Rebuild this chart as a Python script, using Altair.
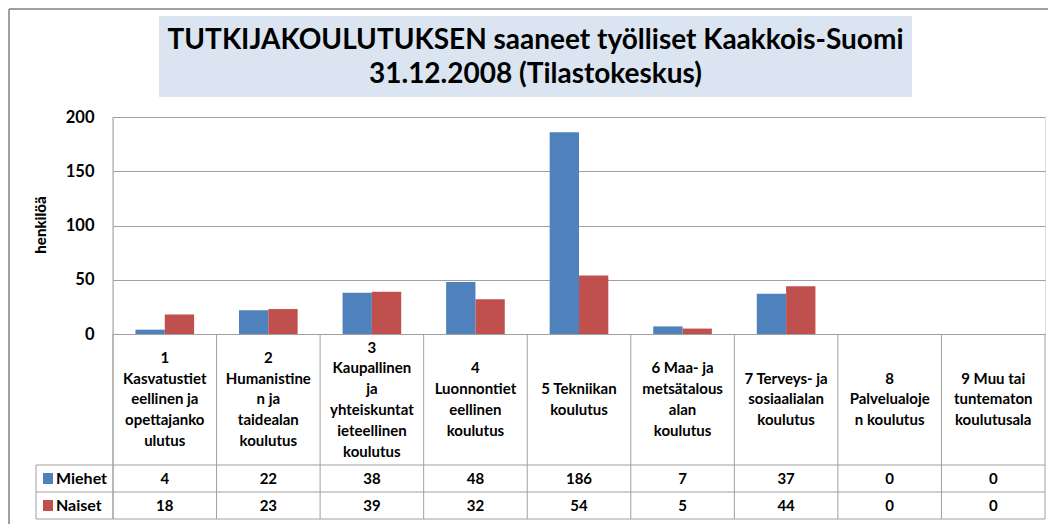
import altair as alt
import pandas as pd

# ---- data ----
categories = [
    "1\nKasvatustiet\neellinen ja\nopettajanko\nulutus",
    "2\nHumanistine\nn ja\ntaidealan\nkoulutus",
    "3\nKaupallinen\nja\nyhteiskuntat\nieteellinen\nkoulutus",
    "4\nLuonnontiet\neellinen\nkoulutus",
    "5 Tekniikan\nkoulutus",
    "6 Maa-  ja\nmetsätalous\nalan\nkoulutus",
    "7 Terveys-  ja\nsosiaalialan\nkoulutus",
    "8\nPalvelualoje\nn koulutus",
    "9 Muu tai\ntuntematon\nkoulutusala",
]
series_names = ["Miehet", "Naiset"]
miehet = [4, 22, 38, 48, 186, 7, 37, 0, 0]
naiset = [18, 23, 39, 32, 54, 5, 44, 0, 0]
colors = ["#4f81bd", "#c0504d"]
title_lines = ["TUTKIJAKOULUTUKSEN  saaneet työlliset  Kaakkois-Suomi",
               "31.12.2008 (Tilastokeskus)"]
y_ticks = [0, 50, 100, 150, 200]
y_title = "henkilöä"

FONT = "Lato"
W, H = 932, 217
GRID = "#a0a0a0"
TFS = 15
LH = 20.8

rows = []
for name, vals in zip(series_names, [miehet, naiset]):
    for c, v in zip(categories, vals):
        rows.append({"cat": c, "series": name, "value": v})
df = pd.DataFrame(rows)
cat_df = pd.DataFrame({"cat": categories})
cat_df["nlines"] = cat_df["cat"].str.count("\n") + 1

xscale = alt.Scale(domain=categories, paddingInner=0, paddingOuter=0)

bars = alt.Chart(df).mark_bar().encode(
    x=alt.X("cat:N", sort=categories, scale=xscale, axis=None),
    xOffset=alt.XOffset("series:N", scale=alt.Scale(domain=series_names, paddingInner=0, paddingOuter=0.766)),
    y=alt.Y("value:Q", scale=alt.Scale(domain=[0, 200], nice=False),
            axis=alt.Axis(values=y_ticks, grid=True, gridColor=GRID, gridWidth=1,
                          domain=False, ticks=False, labelFont=FONT, labelFontSize=16.5,
                          labelFontWeight="bold", labelColor="#000000", labelPadding=19,
                          title=None)),
    color=alt.Color("series:N", scale=alt.Scale(domain=series_names, range=colors), legend=None),
)

layers = []

one = cat_df.head(1)
# outer frame
layers.append(alt.Chart(one).mark_rule(color=GRID, strokeWidth=2).encode(
    x=alt.value(-104), x2=alt.value(960), y=alt.value(-108)))
layers.append(alt.Chart(one).mark_rule(color=GRID, strokeWidth=2).encode(
    x=alt.value(-104), y=alt.value(-108), y2=alt.value(420)))

# title box + text
layers.append(alt.Chart(one).mark_rect(color="#dbe5f1").encode(
    x=alt.value(46), x2=alt.value(799), y=alt.value(-101), y2=alt.value(-20)))
for t, yy in zip(title_lines, [-76, -42]):
    layers.append(alt.Chart(one).mark_text(
        text=t, font=FONT, fontSize=28, fontWeight="bold", color="#000000",
        align="center", baseline="middle").encode(x=alt.value(422.5), y=alt.value(yy)))

layers.append(bars)

# y axis title (rotated)
layers.append(alt.Chart(one).mark_text(
    text=y_title, font=FONT, fontSize=15, fontWeight=900, color="#000000",
    angle=270, align="center", baseline="middle").encode(x=alt.value(-72), y=alt.value(108)))

# table vertical lines
layers.append(alt.Chart(cat_df).mark_rule(color=GRID, strokeWidth=1).encode(
    x=alt.X("cat:N", sort=categories, scale=xscale, bandPosition=0, axis=None),
    y=alt.value(217), y2=alt.value(402)))
layers.append(alt.Chart(one).mark_rule(color=GRID, strokeWidth=1).encode(
    x=alt.value(0), y=alt.value(0), y2=alt.value(402)))
layers.append(alt.Chart(one).mark_rule(color=GRID, strokeWidth=1).encode(
    x=alt.value(932), y=alt.value(217), y2=alt.value(402)))
layers.append(alt.Chart(one).mark_rule(color=GRID, strokeWidth=1).encode(
    x=alt.value(-77), y=alt.value(348), y2=alt.value(402)))
for yy in [348, 375, 402]:
    layers.append(alt.Chart(one).mark_rule(color=GRID, strokeWidth=1).encode(
        x=alt.value(-77), x2=alt.value(932), y=alt.value(yy)))

# header labels (multi-line, block centred in header cell)
for n in sorted(cat_df["nlines"].unique()):
    sub = cat_df[cat_df["nlines"] == n]
    y_first = 282.5 - (n - 1) * LH / 2
    layers.append(alt.Chart(sub).mark_text(
        font=FONT, fontSize=TFS, fontWeight="bold", color="#000000", lineBreak="\n",
        lineHeight=LH, align="center", baseline="middle").encode(
        x=alt.X("cat:N", sort=categories, scale=xscale, axis=None),
        y=alt.value(float(y_first)), text="cat:N"))

# value rows + legend
row_y = [361.5, 388.5]
for name, vals, col, yy in zip(series_names, [miehet, naiset], colors, row_y):
    sdf = pd.DataFrame({"cat": categories, "value": vals})
    layers.append(alt.Chart(sdf).mark_text(
        font=FONT, fontSize=TFS, fontWeight="bold", color="#000000",
        align="center", baseline="middle").encode(
        x=alt.X("cat:N", sort=categories, scale=xscale, axis=None),
        y=alt.value(yy), text="value:Q"))
    ldf = pd.DataFrame({"series": [name]})
    layers.append(alt.Chart(ldf).mark_rect(color=col).encode(
        x=alt.value(-70), x2=alt.value(-60), y=alt.value(yy - 5.5), y2=alt.value(yy + 5.5)))
    layers.append(alt.Chart(ldf).mark_text(
        font=FONT, fontSize=16, fontWeight="bold", color="#000000",
        align="left", baseline="middle").encode(
        x=alt.value(-57), y=alt.value(yy), text="series:N"))

chart = alt.layer(*layers).properties(
    width=W, height=H,
    autosize=alt.AutoSizeParams(type="none"),
    padding={"left": 105, "top": 109, "right": 3, "bottom": 190},
).configure_view(stroke=None).configure(background="#ffffff")

chart.save("out.html", embed_options={"renderer": "svg", "actions": False})
